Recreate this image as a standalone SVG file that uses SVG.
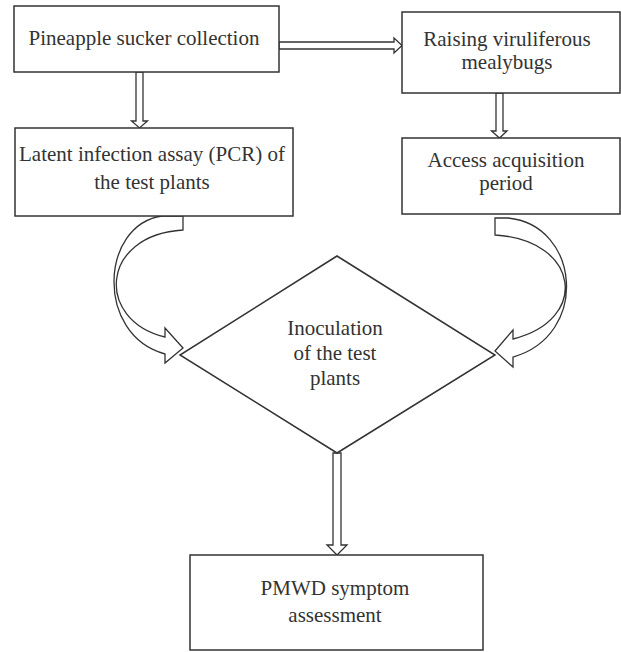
<svg xmlns="http://www.w3.org/2000/svg" width="621" height="652" viewBox="0 0 621 652">
<style>
.box{fill:#fff;stroke:#333;stroke-width:1.5}
.arr{fill:#fff;stroke:#333;stroke-width:1.3;stroke-linejoin:miter}
text{font-family:"Liberation Serif","Times New Roman",serif;font-size:21px;fill:#333;text-anchor:middle}
</style>
<rect width="621" height="652" fill="#fff"/>
<g id="connectors">
<path class="arr" d="M279,42 L394,42 L394,38 L402,45.5 L394,53 L394,49 L279,49 Z"/>
<path class="arr" d="M136,72 L136,121 L131.5,121 L139.5,128 L147.5,121 L143,121 L143,72 Z"/>
<path class="arr" d="M496,93 L496,131 L491.5,131 L499.5,138 L507,131 L503,131 L503,93 Z"/>
<path class="arr" d="M333,453 L333,545 L327,545 L337,555 L347,545 L341,545 L341,453 Z"/>
<path class="arr" d="M162,216 C100,225 95,335 165,354 L165,363 L183,348 L165,328 L165,337 C95,320 100,235 183,230 L183,216 Z"/>
<path class="arr" d="M495,218 L508,218 C580,225 590,335 513,357 L513,367 L495,351 L513,330 L513,339 C590,320 580,240 495,235 Z"/>
</g>
<g id="n1"><rect class="box" x="14" y="6" width="265" height="66"/><text x="144" y="45">Pineapple sucker collection</text></g>
<g id="n2"><rect class="box" x="402" y="12" width="218" height="81"/><text x="507" y="46">Raising viruliferous</text><text x="507" y="69">mealybugs</text></g>
<g id="n3"><rect class="box" x="15" y="128" width="278" height="88"/><text x="152" y="161">Latent infection assay (PCR) of</text><text x="152" y="189">the test plants</text></g>
<g id="n4"><rect class="box" x="402" y="138" width="218" height="76"/><text x="506" y="167">Access acquisition</text><text x="506" y="190">period</text></g>
<g id="n5"><polygon class="box" points="337,256 495,355 337,453 180,355"/><text x="335" y="335">Inoculation</text><text x="335" y="360">of the test</text><text x="335" y="385">plants</text></g>
<g id="n6"><rect class="box" x="190" y="555" width="293" height="95"/><text x="335" y="595">PMWD symptom</text><text x="335" y="622">assessment</text></g>
</svg>
